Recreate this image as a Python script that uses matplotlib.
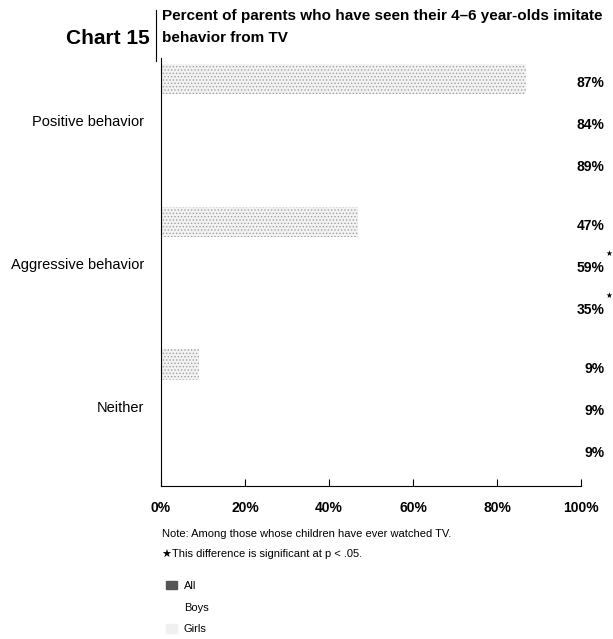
import matplotlib
matplotlib.use('Agg')
import matplotlib.pyplot as plt
from matplotlib.patches import Patch

plt.rcParams['font.family'] = ['Liberation Sans', 'DejaVu Sans']
plt.rcParams['hatch.linewidth'] = 0.6

categories = ['Positive behavior', 'Aggressive behavior', 'Neither']
all_pct = [87, 47, 9]
boys_pct = [84, 59, 9]
girls_pct = [89, 35, 9]
significant = [False, True, False]   # boys vs girls difference
series_names = ['All', 'Boys', 'Girls']
xticks = [0, 20, 40, 60, 80, 100]

group_start = [0, 3.4, 6.8]
bar_h = 0.72

fig = plt.figure(figsize=(6.13, 6.39), dpi=100)
ax = fig.add_axes([0.2627, 0.2394, 0.685, 0.670])

series = [all_pct, boys_pct, girls_pct]
styles = [dict(facecolor='#f2f2f2', edgecolor='#a0a0a0', hatch='.....', linewidth=0),
          dict(facecolor='white', edgecolor='white', linewidth=0),
          dict(facecolor='white', edgecolor='white', linewidth=0)]

for k, vals in enumerate(series):
    ys = [g + k for g in group_start]
    ax.barh(ys, vals, height=bar_h, **styles[k])
    for i, v in enumerate(vals):
        ax.text(105.7, ys[i] + 0.1, '%d%%' % v, ha='right', va='center',
                fontsize=10, fontweight='bold', clip_on=False)
        if significant[i] and k > 0:
            ax.text(105.9, ys[i] - 0.22, '\u2605', ha='left', va='center',
                    fontsize=5.5, clip_on=False)

ax.set_xlim(0, 100)
ax.set_ylim(9.69, -0.5)
ax.set_yticks([g + 1 for g in group_start])
ax.set_yticklabels(categories, fontsize=10.5)
ax.tick_params(axis='y', length=0, pad=12)
ax.set_xticks(xticks)
ax.set_xticklabels(['%d%%' % t for t in xticks], fontsize=10, fontweight='bold')
ax.tick_params(axis='x', direction='in', length=5, width=0.8, pad=11)

ax.spines['top'].set_visible(False)
ax.spines['right'].set_visible(False)
ax.spines['left'].set_linewidth(0.8)
ax.spines['bottom'].set_linewidth(0.8)

# header
fig.text(0.245, 0.940, 'Chart 15', ha='right', va='center',
         fontsize=15, fontweight='bold')
fig.add_artist(plt.Line2D([0.2545, 0.2545], [0.905, 0.985], color='black', lw=0.8))
fig.text(0.265, 0.975, 'Percent of parents who have seen their 4\u20136 year-olds imitate',
         ha='left', va='center', fontsize=11, fontweight='bold')
fig.text(0.265, 0.941, 'behavior from TV', ha='left', va='center',
         fontsize=11, fontweight='bold')

# notes
fig.text(0.264, 0.164, 'Note: Among those whose children have ever watched TV.',
         ha='left', va='center', fontsize=8)
fig.text(0.264, 0.133, '\u2605This difference is significant at p < .05.',
         ha='left', va='center', fontsize=8)

handles = [Patch(facecolor='#555555', edgecolor='#555555'),
           Patch(facecolor='white', edgecolor='white'),
           Patch(facecolor='#f0f0f0', edgecolor='#f0f0f0')]
fig.legend(handles, series_names, loc='upper left', bbox_to_anchor=(0.262, 0.1),
           frameon=False, fontsize=8, handlelength=1.0, handleheight=0.8,
           labelspacing=1.05, handletextpad=0.6, borderpad=0)

fig.savefig('out.png', dpi=100)
